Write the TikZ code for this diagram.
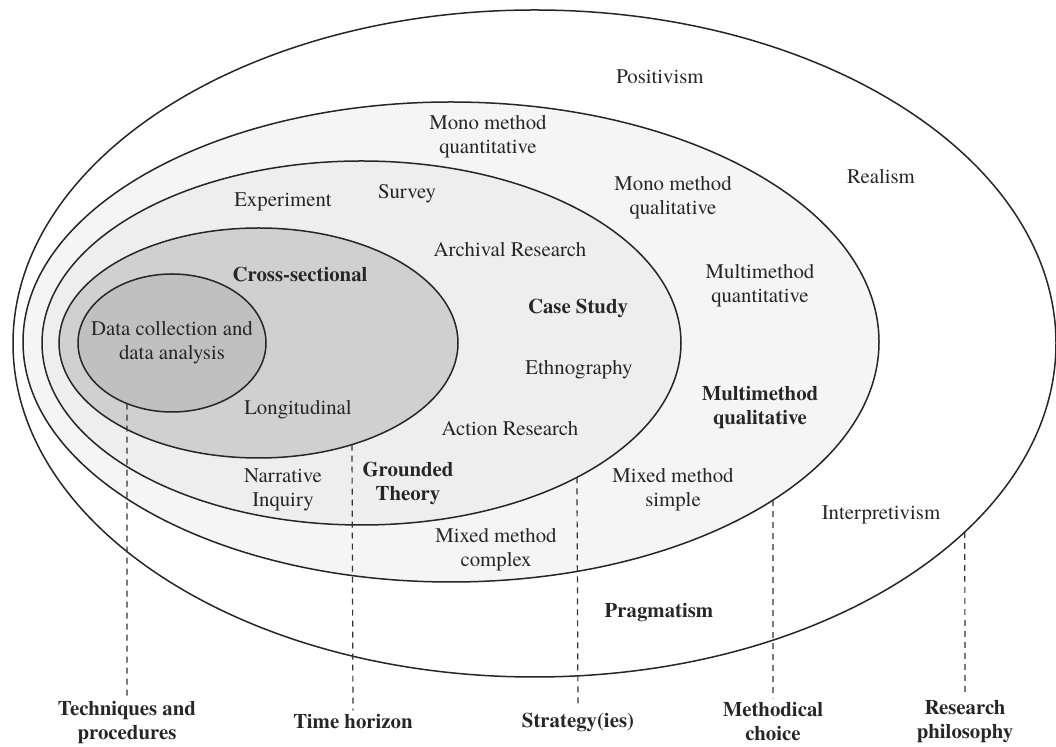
\documentclass[tikz,border=0pt]{standalone}
\usepackage{fontspec}
\setmainfont{texgyretermes}[Extension=.otf, UprightFont=*-regular, BoldFont=*-bold, ItalicFont=*-italic, BoldItalicFont=*-bolditalic]
\definecolor{inkgray}{HTML}{262626}
\definecolor{ringA}{HTML}{F5F5F5}
\definecolor{ringB}{HTML}{EEEEEE}
\definecolor{ringC}{HTML}{D0D0D0}
\definecolor{ringD}{HTML}{C0C0C0}
\tikzset{
  ring/.style={draw=black!85, line width=0.75pt},
  txt/.style={align=center, text=inkgray, inner sep=2pt, font=\fontsize{10.4}{12}\selectfont},
  btxt/.style={txt, font=\fontsize{10.4}{12}\selectfont\bfseries},
  guide/.style={draw=black!80, line width=0.6pt, dash pattern=on 3pt off 2.5pt},
}
\begin{document}
\begin{tikzpicture}[x=0.5pt,y=-0.5pt]
        \useasboundingbox (0,0) rectangle (1056,747);
            \coordinate (C0) at (534.5,343.5);
            \coordinate (C1) at (451,342);
            \coordinate (C2) at (361.5,343);
            \coordinate (C3) at (258.5,343);
            \coordinate (C4) at (172,343);

      % the onion layers
      \draw [ring, fill=white] (C0) ellipse [x radius=521.5, y radius=333.5];
      \draw [ring, fill=ringA] (C1) ellipse [x radius=428, y radius=240];
      \draw [ring, fill=ringB] (C2) ellipse [x radius=319.5, y radius=182];
      \draw [ring, fill=ringC] (C3) ellipse [x radius=199.5, y radius=115];
      \draw [ring, fill=ringD] (C4) ellipse [x radius=94, y radius=69];

      % philosophy
      \node [txt] (positivism) at (660,77) {Positivism};
      \node [txt] (realism) at (881,177) {Realism};
      \node [txt] (interpretivism) at (881,515) {Interpretivism};
      \node [btxt] (pragmatism) at (659,613) {Pragmatism};

      % methodical choice
      \node [txt] (monoquan) at (488,137) {Mono method\\quantitative};
      \node [txt] (monoqual) at (673,198) {Mono method\\qualitative};
      \node [txt] (multiquan) at (760,286) {Multimethod\\quantitative};
      \node [btxt] (multiqual) at (760,407) {Multimethod\\qualitative};
      \node [txt] (mixsimple) at (673,490) {Mixed method\\simple};
      \node [txt] (mixcomplex) at (496,550) {Mixed method\\complex};

      % strategies
      \node [txt] (experiment) at (283,202) {Experiment};
      \node [txt] (survey) at (407,194) {Survey};
      \node [txt] (archival) at (510,250) {Archival Research};
      \node [btxt] (casestudy) at (578,308) {Case Study};
      \node [txt] (ethnography) at (579,370) {Ethnography};
      \node [txt] (action) at (510,429) {Action Research};
      \node [txt] (narrative) at (283,490) {Narrative\\Inquiry};
      \node [btxt] (grounded) at (408,483) {Grounded\\Theory};

      % time horizon and core
      \node [btxt] (crosssec) at (300,275) {Cross-sectional};
      \node [txt] (longitud) at (298,410) {Longitudinal};
      \node [txt] (datacoll) at (172,343) {Data collection and\\data analysis};

      % layer names
      \node [btxt] (techniques) at (127,722) {Techniques and\\procedures};
      \node [btxt] (timehor) at (353,722) {Time horizon};
      \node [btxt] (strategy) at (578,722) {Strategy(ies)};
      \node [btxt] (methchoice) at (773,722) {Methodical\\choice};
      \node [btxt] (philosophy) at (965,722) {Research\\philosophy};

      \path (C4) ++(118.6:94 and 69) coordinate (G4);
      \path (C3) ++(62.05:199.5 and 115) coordinate (G3);
      \path (C2) ++(47.6:319.5 and 182) coordinate (G2);
      \path (C1) ++(41.2:428 and 240) coordinate (G1);
      \path (C0) ++(34.4:521.5 and 333.5) coordinate (G0);

      \draw [guide] (G4) -- (techniques.north);
      \draw [guide] (G3) -- (timehor.north);
      \draw [guide] (G2) -- (strategy.north);
      \draw [guide] (G1) -- (methchoice.north);
      \draw [guide] (G0) -- (philosophy.north);

      \end{tikzpicture}
\end{document}
